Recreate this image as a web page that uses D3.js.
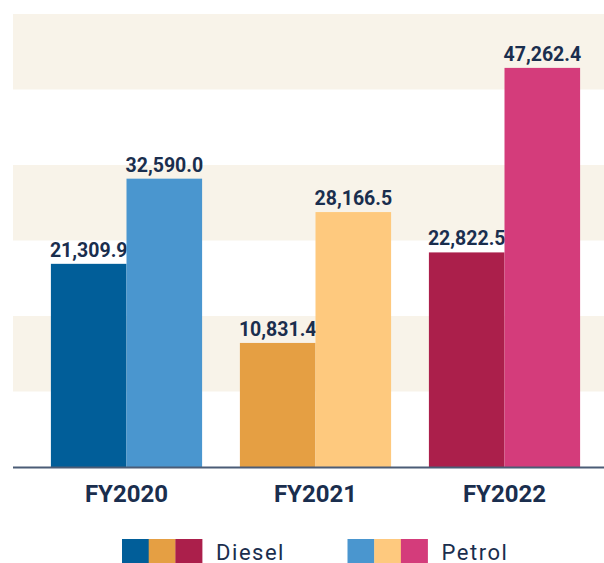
<!DOCTYPE html>
<meta charset="utf-8">
<style>
  body { margin: 0; background: #fff; font-family: Roboto, sans-serif; }
</style>
<body>
<script src="https://cdn.jsdelivr.net/npm/d3@7"></script>
<script>
  // chart values
  var years = ["FY2020", "FY2021", "FY2022"];
  var fuels = ["Diesel", "Petrol"];
  var diesel = [21309.9, 10831.4, 22822.5];
  var petrol = [32590.0, 28166.5, 47262.4];
  // gridline values (the stripes sit between them)
  var yTicks = [-5600, 4400, 14400, 24400, 34400, 44400, 54400];

  // colours per year, one for each fuel
  var dieselColors = ["#015e99", "#e59f43", "#ab1f4b"];
  var petrolColors = ["#4a96cf", "#fec97e", "#d43c7b"];
  var ink = "#1a2e4e";

  var width = 604, height = 563;
  var svg = d3.select("body").append("svg")
    .attr("width", width)
    .attr("height", height);

  var y = d3.scaleLinear()
    .domain([yTicks[0], yTicks[yTicks.length - 1]])
    .range([467, 14]);

  var x = d3.scaleBand()
    .domain(years)
    .range([32, 599])
    .paddingInner(0.2)
    .paddingOuter(0.1);

  var xSub = d3.scaleBand()
    .domain(fuels)
    .range([0, x.bandwidth()]);

  // background stripes, every other interval starting from the top
  var stripes = [];
  for (var i = 1; i < yTicks.length; i += 2) stripes.push([yTicks[i], yTicks[i + 1]]);
  svg.append("g").selectAll("rect")
    .data(stripes)
    .enter().append("rect")
      .attr("x", 13)
      .attr("width", width - 13)
      .attr("y", function(d) { return y(d[1]); })
      .attr("height", function(d) { return y(d[0]) - y(d[1]); })
      .attr("fill", "#f8f3e9");

  // build rows: one per year/fuel
  var rows = [];
  years.forEach(function(yr, i) {
    rows.push({ year: yr, fuel: "Diesel", value: diesel[i], color: dieselColors[i] });
    rows.push({ year: yr, fuel: "Petrol", value: petrol[i], color: petrolColors[i] });
  });

  var fmt = d3.format(",.1f");

  var bars = svg.append("g").selectAll("g")
    .data(rows)
    .enter().append("g")
      .attr("transform", function(d) { return "translate(" + (x(d.year) + xSub(d.fuel)) + ",0)"; });

  bars.append("rect")
    .attr("x", 0)
    .attr("width", xSub.bandwidth())
    .attr("y", function(d) { return y(d.value); })
    .attr("height", function(d) { return y(yTicks[0]) - y(d.value); })
    .attr("fill", function(d) { return d.color; });

  bars.append("text")
    .attr("x", xSub.bandwidth() / 2)
    .attr("y", function(d) { return y(d.value) - 7; })
    .attr("text-anchor", "middle")
    .attr("font-size", "19.5px")
    .attr("font-weight", "bold")
    .attr("fill", ink)
    .text(function(d) { return fmt(d.value); });

  // baseline
  svg.append("line")
    .attr("x1", 13).attr("x2", width)
    .attr("y1", y(yTicks[0]) + 0.5).attr("y2", y(yTicks[0]) + 0.5)
    .attr("stroke", "#4b5c76")
    .attr("stroke-width", 2);

  // category labels
  svg.append("g").selectAll("text")
    .data(years)
    .enter().append("text")
      .attr("x", function(d) { return x(d) + x.bandwidth() / 2; })
      .attr("y", 502)
      .attr("text-anchor", "middle")
      .attr("font-size", "24px")
      .attr("font-weight", "bold")
      .attr("fill", ink)
      .text(function(d) { return d; });

  // legend
  var legendItems = [
    { name: "Diesel", colors: dieselColors, x: 122 },
    { name: "Petrol", colors: petrolColors, x: 347.5 }
  ];
  var sw = 26.7;
  var legend = svg.append("g").selectAll("g")
    .data(legendItems)
    .enter().append("g")
      .attr("transform", function(d) { return "translate(" + d.x + ",539)"; });

  legend.selectAll("rect")
    .data(function(d) { return d.colors; })
    .enter().append("rect")
      .attr("x", function(d, i) { return i * sw; })
      .attr("width", sw + 0.3)
      .attr("height", 24)
      .attr("fill", function(d) { return d; });

  legend.append("text")
    .attr("x", 3 * sw + 14)
    .attr("y", 20.5)
    .attr("font-size", "22px")
    .attr("letter-spacing", "1.5px")
    .attr("fill", ink)
    .text(function(d) { return d.name; });
</script>
</body>
